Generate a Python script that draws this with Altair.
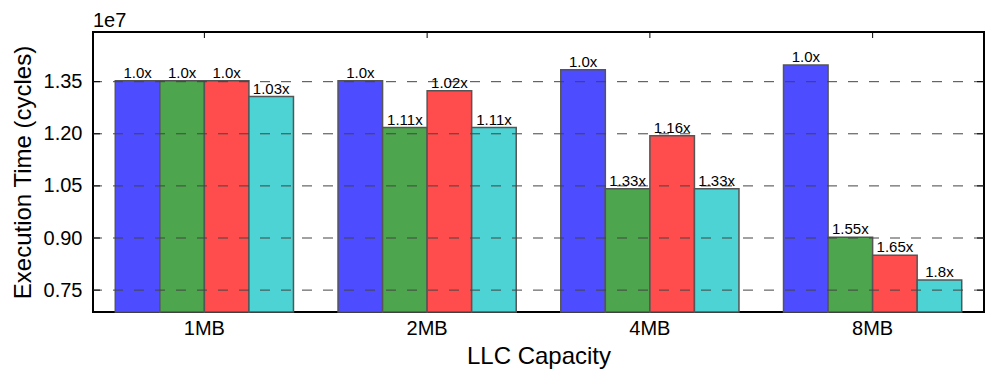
import altair as alt
import pandas as pd

# ---- data (values in units of 1e7 cycles) ----
capacities = ["1MB", "2MB", "4MB", "8MB"]
series_names = ["A", "B", "C", "D"]
series_colors = ["#4d4dff", "#4da64d", "#ff4d4d", "#4dd3d3"]
vals_a = [1.353, 1.353, 1.384, 1.398]
vals_b = [1.353, 1.218, 1.042, 0.902]
vals_c = [1.353, 1.324, 1.194, 0.850]
vals_d = [1.307, 1.218, 1.042, 0.779]
labels_a = ["1.0x", "1.0x", "1.0x", "1.0x"]
labels_b = ["1.0x", "1.11x", "1.33x", "1.55x"]
labels_c = ["1.0x", "1.02x", "1.16x", "1.65x"]
labels_d = ["1.03x", "1.11x", "1.33x", "1.8x"]
y_ticks = [0.75, 0.90, 1.05, 1.20, 1.35]
y_min, y_max = 0.687, 1.493

rows = []
for s, vals, labs in zip(series_names, [vals_a, vals_b, vals_c, vals_d],
                         [labels_a, labels_b, labels_c, labels_d]):
    for cap, v, lab in zip(capacities, vals, labs):
        rows.append({"cap": cap, "series": s, "value": v, "label": lab})
df = pd.DataFrame(rows)
ticks_df = pd.DataFrame({"t": y_ticks})
caps_df = pd.DataFrame({"cap": capacities})

FONT = "Liberation Sans"
W, H = 891, 280

x_enc = alt.X("cap:N", sort=capacities,
              scale=alt.Scale(paddingInner=0.2, paddingOuter=0.1),
              axis=alt.Axis(title="LLC Capacity", labelAngle=0, ticks=False,
                            domain=False, labelFontSize=20, labelPadding=6,
                            titleFontSize=24, titleFontWeight="normal",
                            titlePadding=6, labelColor="black", titleColor="black",
                            labelFont=FONT, titleFont=FONT))
y_scale = alt.Scale(domain=[y_min, y_max], nice=False, zero=False)
y_enc = alt.Y("value:Q", scale=y_scale,
              axis=alt.Axis(title="Execution Time (cycles)", values=y_ticks,
                            format=".2f", grid=False, ticks=False, domain=False,
                            labelFontSize=20, labelPadding=11,
                            titleFontSize=24, titleFontWeight="normal",
                            titlePadding=8, labelColor="black", titleColor="black",
                            labelFont=FONT, titleFont=FONT))
xoff = alt.XOffset("series:N", sort=series_names,
                   scale=alt.Scale(paddingInner=0, paddingOuter=0))
color = alt.Color("series:N", sort=series_names,
                  scale=alt.Scale(domain=series_names, range=series_colors),
                  legend=None)

bars = alt.Chart(df).mark_bar(stroke="#555555", strokeWidth=1.5).encode(
    x=x_enc, xOffset=xoff, y=y_enc, y2=alt.datum(y_min), color=color
)

texts = alt.Chart(df).mark_text(
    baseline="alphabetic", align="center", dy=-3, fontSize=15, font=FONT,
    color="black"
).encode(x=x_enc, xOffset=xoff, y=y_enc, text="label:N")

grid = alt.Chart(ticks_df).mark_rule(
    color="#444444", strokeWidth=1, strokeDash=[10, 11]
).encode(y=alt.Y("t:Q", scale=y_scale))

tick_left = alt.Chart(ticks_df).mark_rule(color="black", strokeWidth=1).encode(
    y=alt.Y("t:Q", scale=y_scale), x=alt.value(0), x2=alt.value(7))
tick_right = alt.Chart(ticks_df).mark_rule(color="black", strokeWidth=1).encode(
    y=alt.Y("t:Q", scale=y_scale), x=alt.value(W - 7), x2=alt.value(W))
tick_top = alt.Chart(caps_df).mark_rule(color="black", strokeWidth=1).encode(
    x=alt.X("cap:N", sort=capacities), y=alt.value(0), y2=alt.value(6))

offset_text = alt.Chart(pd.DataFrame({"t": ["1e7"]})).mark_text(
    align="left", baseline="alphabetic", fontSize=20, font=FONT, color="black"
).encode(x=alt.value(0), y=alt.value(-5), text="t:N")

chart = alt.layer(bars, grid, texts, tick_left, tick_right, tick_top, offset_text).properties(
    width=W, height=H,
    background="white",
    autosize=alt.AutoSizeParams(type="none"),
    padding={"left": 85, "top": 24, "right": 5, "bottom": 66},
).configure_view(
    stroke="black", strokeWidth=2, strokeOpacity=1
)

chart.save("out.html", embed_options={"renderer": "svg", "actions": False})
